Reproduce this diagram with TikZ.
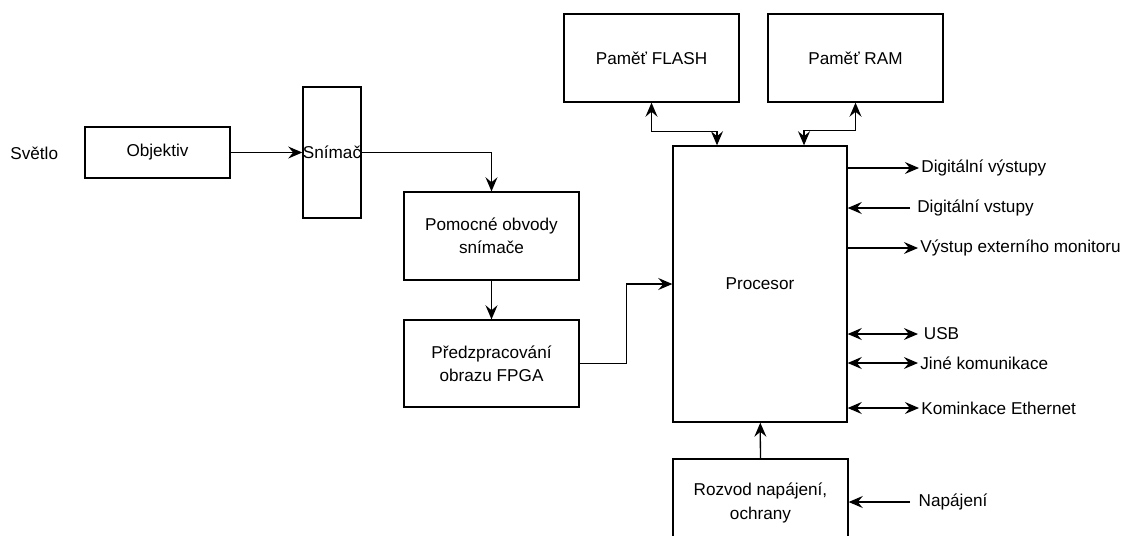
\documentclass[tikz,border=0pt]{standalone}
\usepackage{fontspec}
\setmainfont{Liberation Sans}
\usepackage{tikz}
\usetikzlibrary{arrows.meta}

\begin{document}
\begin{tikzpicture}[x=0.025cm, y=-0.025cm,
      every node/.style={font=\fontsize{12.2}{16.5}\selectfont},
      box/.style={draw, line width=0.9pt, align=center, minimum width=4.375cm,
                  minimum height=2.2cm, inner sep=0pt},
      lbl/.style={anchor=west, inner sep=1.5pt},
      arr/.style={-{Stealth[length=10pt, width=8.5pt, inset=3.5pt]}, line width=0.9pt},
      biarr/.style={{Stealth[length=10pt, width=8.5pt, inset=3.5pt]}-{Stealth[length=10pt, width=8.5pt, inset=3.5pt]}, line width=0.9pt}]
    \useasboundingbox (0,0) rectangle (1125,541);
    \clip (0,0) rectangle (1125,535);
    % camera chain
    \node[lbl] (light) at (8,153) {Světlo};
    \node[box, minimum width=3.625cm, minimum height=1.275cm] (obj) at (157.5,152.5) {Objektiv};
    \node[box, minimum width=1.45cm, minimum height=3.275cm] (snim) at (332,152.5) {Snímač};
    \node[box] (pom) at (491.5,236) {Pomocné obvody\\ snímače};
    \node[box, minimum height=2.175cm] (pred) at (491.5,363.5) {Předzpracování\\ obrazu FPGA};
    % processor and memories
    \node[box, minimum width=4.35cm, minimum height=6.9cm] (proc) at (760,284) {Procesor};
    \node[box] (flash) at (651.5,58) {Paměť FLASH};
    \node[box] (ram) at (855.5,58) {Paměť RAM};
    \node[box] (rozv) at (760.5,503) {Rozvod napájení,\\ ochrany};
    % interfaces
    \node[lbl] (dout) at (919,168) {Digitální výstupy};
    \node[lbl, inner xsep=5pt] (din) at (910,208) {Digitální vstupy};
    \node[lbl] (mon) at (918,248) {Výstup externího monitoru};
    \node[lbl, inner xsep=4pt] (usb) at (918,334) {USB};
    \node[lbl] (jine) at (918,363) {Jiné komunikace};
    \node[lbl] (eth) at (919,408) {Kominkace Ethernet};
    \node[lbl, inner xsep=6pt] (nap) at (910,502) {Napájení};

    \draw[arr] (obj) -- (snim.west);
    \draw[arr] (snim.east) -| (pom.north);
    \draw[arr] (pom) -- (pred);
    \draw[arr] (pred.east) -- ++(47,0) |- (proc.west);
    \draw[biarr] (flash.south) -- ++(0,29) -| ([shift={(-43,0)}]proc.north);
    \draw[biarr] ([shift={(44,0)}]proc.north) -- ++(0,-15) -| (ram.south);
    \draw[arr] (proc.east |- dout.west) -- (dout.west);
    \draw[arr] (din.west) -- (proc.east |- din.west);
    \draw[arr] (proc.east |- mon.west) -- (mon.west);
    \draw[biarr] (proc.east |- usb.west) -- (usb.west);
    \draw[biarr] (proc.east |- jine.west) -- (jine.west);
    \draw[biarr] (proc.east |- eth.west) -- (eth.west);
    \draw[arr] (rozv) -- (proc);
    \draw[arr] (nap.west) -- (rozv.east |- nap.west);
  \end{tikzpicture}
\end{document}
